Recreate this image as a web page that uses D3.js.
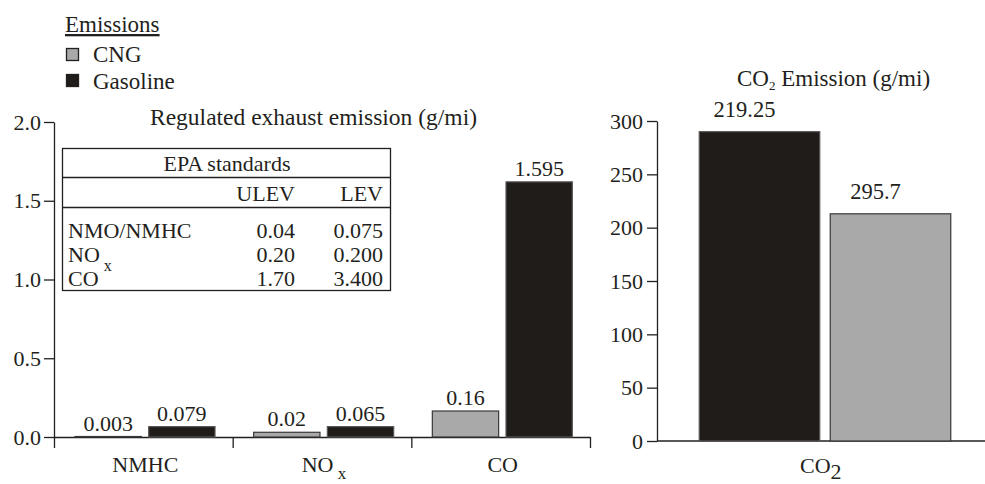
<!DOCTYPE html>
<html lang="en">
<head>
<meta charset="UTF-8">
<title>Emissions</title>
<script src="https://cdnjs.cloudflare.com/ajax/libs/d3/7.8.5/d3.min.js"></script>
<style>
  body { margin: 0; background: #fff; }
  svg, svg text { font-family: "Liberation Serif", "Times New Roman", Times, "DejaVu Serif", serif !important; }
  svg text { fill: #231f20; }
  .axis path, .axis line { stroke: #231f20; stroke-width: 1.3; }
  .axis text { font-size: 22px; }
</style>
</head>
<body>
<div id="chart"></div>
<script>
// left panel: regulated emissions
var categories = ["NMHC", "NOx", "CO"];
var seriesNames = ["CNG", "Gasoline"];
var cngValues = [0.003, 0.03, 0.165];
var gasValues = [0.066, 0.066, 1.62];
var cngLabels = ["0.003", "0.02", "0.16"];
var gasLabels = ["0.079", "0.065", "1.595"];
var leftTicks = [0, 0.5, 1.0, 1.5, 2.0];

// EPA standards table
var epaRows = ["NMO/NMHC", "NOx", "CO"];
var epaUlev = ["0.04", "0.20", "1.70"];
var epaLev = ["0.075", "0.200", "3.400"];

// right panel: CO2
var co2Series = ["Gasoline", "CNG"];
var co2Values = [290, 213];
var co2Labels = ["219.25", "295.7"];
var co2Ticks = [0, 50, 100, 150, 200, 250, 300];

var w = 985, h = 484;
var serif = '"Liberation Serif", "Times New Roman", "DejaVu Serif", serif';
var colors = { CNG: "#a9a9a9", Gasoline: "#201c1a" };
var strokes = { CNG: "#3a3636", Gasoline: "#5a5656" };

var svg = d3.select("#chart").append("svg")
    .attr("width", w)
    .attr("height", h)
    .attr("font-family", serif);

// subscript helper: "NOx" -> NO + lowered x, "CO2" -> CO + lowered 2
function sub(sel, name, dy, size) {
    var m = name.match(/^(NO|CO)(x|2)$/);
    if (!m) { sel.text(name); return; }
    sel.append("tspan").text(m[1]);
    sel.append("tspan").attr("dy", dy).attr("font-size", size).text((m[2] == "x" ? " " : "") + m[2]);
}

// ---------- legend ----------
svg.append("text").attr("x", 65).attr("y", 32).attr("font-size", 23)
    .attr("text-decoration", "underline").text("Emissions");
seriesNames.forEach(function (s, i) {
    svg.append("rect")
        .attr("x", 66.5).attr("y", 48.5 + i * 26)
        .attr("width", 12).attr("height", 12)
        .attr("fill", colors[s]).attr("stroke", "#231f20").attr("stroke-width", 1.3);
    svg.append("text").attr("x", 93).attr("y", 62 + i * 27).attr("font-size", 23).text(s);
});

// ---------- left chart ----------
var yL = d3.scaleLinear().domain([0, 2]).range([437, 122]);
var x0 = d3.scaleBand().domain(categories).range([54, 590]);
var x1 = d3.scaleBand().domain(seriesNames).range([21, 161]).paddingInner(0.1);
var xEdges = d3.scaleLinear().domain([0, categories.length]).range([54, 590]);

svg.append("g").attr("class", "axis")
    .attr("transform", "translate(54,0)")
    .call(d3.axisLeft(yL).tickValues(leftTicks).tickSize(10).tickSizeOuter(0).tickPadding(3)
        .tickFormat(d3.format(".1f")))
    .attr("font-family", serif);

svg.append("g").attr("class", "axis")
    .attr("transform", "translate(0,437)")
    .call(d3.axisBottom(xEdges).ticks(3).tickSize(11).tickSizeOuter(0).tickFormat(""));

svg.append("text").attr("x", 150).attr("y", 125).attr("font-size", 23.5)
    .text("Regulated exhaust emission (g/mi)");

var groups = svg.selectAll("g.cat")
    .data(categories.map(function (c, i) {
        return { cat: c, bars: [
            { s: "CNG", v: cngValues[i], label: cngLabels[i] },
            { s: "Gasoline", v: gasValues[i], label: gasLabels[i] }
        ] };
    }))
    .enter().append("g").attr("class", "cat")
    .attr("transform", function (d) { return "translate(" + x0(d.cat) + ",0)"; });

groups.selectAll("rect")
    .data(function (d) { return d.bars; })
    .enter().append("rect")
    .attr("x", function (d) { return x1(d.s); })
    .attr("y", function (d) { return yL(d.v); })
    .attr("width", x1.bandwidth())
    .attr("height", function (d) { return yL(0) - yL(d.v); })
    .attr("fill", function (d) { return colors[d.s]; })
    .attr("stroke", function (d) { return strokes[d.s]; })
    .attr("stroke-width", 1.2);

groups.selectAll("text.val")
    .data(function (d) { return d.bars; })
    .enter().append("text").attr("class", "val")
    .attr("x", function (d) { return x1(d.s) + x1.bandwidth() / 2; })
    .attr("y", function (d) { return yL(d.v) - 6; })
    .attr("text-anchor", "middle").attr("font-size", 22)
    .text(function (d) { return d.label; });

groups.append("text")
    .attr("x", x0.bandwidth() / 2 + 2)
    .attr("y", 472)
    .attr("text-anchor", "middle").attr("font-size", 22)
    .each(function (d) { sub(d3.select(this), d.cat, 7, 17); });

// EPA standards box
var box = svg.append("g");
box.append("rect").attr("x", 62.5).attr("y", 148.5).attr("width", 328).attr("height", 142)
    .attr("fill", "#fff").attr("stroke", "#231f20").attr("stroke-width", 1.3);
box.selectAll("line").data([177, 207]).enter().append("line")
    .attr("x1", 62.5).attr("x2", 390.5).attr("y1", function (d) { return d + 0.5; }).attr("y2", function (d) { return d + 0.5; })
    .attr("stroke", "#231f20").attr("stroke-width", 1.3);
box.append("text").attr("x", 227).attr("y", 171).attr("text-anchor", "middle").attr("font-size", 22).text("EPA standards");
box.append("text").attr("x", 295).attr("y", 201).attr("text-anchor", "end").attr("font-size", 22).text("ULEV");
box.append("text").attr("x", 383).attr("y", 201).attr("text-anchor", "end").attr("font-size", 22).text("LEV");
var rowY = d3.scalePoint().domain(epaRows).range([238, 286]);
epaRows.forEach(function (r, i) {
    var t = box.append("text").attr("x", 68).attr("y", rowY(r)).attr("font-size", 22);
    sub(t, r, 9, 16);
    box.append("text").attr("x", 295).attr("y", rowY(r)).attr("text-anchor", "end").attr("font-size", 22).text(epaUlev[i]);
    box.append("text").attr("x", 383).attr("y", rowY(r)).attr("text-anchor", "end").attr("font-size", 22).text(epaLev[i]);
});

// ---------- right chart ----------
var yR = d3.scaleLinear().domain([0, 300]).range([441, 121]);
var xR = d3.scaleBand().domain(co2Series).range([694, 956]).paddingInner(0.08).paddingOuter(0.04);

svg.append("g").attr("class", "axis")
    .attr("transform", "translate(657,0)")
    .call(d3.axisLeft(yR).tickValues(co2Ticks).tickSize(10).tickSizeOuter(0).tickPadding(4))
    .attr("font-family", serif);

svg.append("line").attr("x1", 657).attr("x2", w).attr("y1", 441).attr("y2", 441)
    .attr("stroke", "#231f20").attr("stroke-width", 1.3);

svg.selectAll("rect.co2")
    .data(co2Series.map(function (s, i) { return { s: s, v: co2Values[i], label: co2Labels[i] }; }))
    .enter().append("rect").attr("class", "co2")
    .attr("x", function (d) { return xR(d.s); })
    .attr("y", function (d) { return yR(d.v); })
    .attr("width", xR.bandwidth())
    .attr("height", function (d) { return yR(0) - yR(d.v); })
    .attr("fill", function (d) { return colors[d.s]; })
    .attr("stroke", function (d) { return strokes[d.s]; })
    .attr("stroke-width", 1.2);

// labels sit a little left of the bar centre in the original
svg.selectAll("text.co2")
    .data(co2Series.map(function (s, i) { return { s: s, v: co2Values[i], label: co2Labels[i] }; }))
    .enter().append("text").attr("class", "co2")
    .attr("x", function (d) { return xR(d.s) + xR.bandwidth() / 2 - 15; })
    .attr("y", function (d) { return yR(d.v) - 15; })
    .attr("text-anchor", "middle").attr("font-size", 22.5)
    .text(function (d) { return d.label; });

var t2 = svg.append("text").attr("x", 737).attr("y", 86).attr("font-size", 23);
t2.append("tspan").text("CO");
t2.append("tspan").attr("dy", 4).attr("font-size", 13).text("2");
t2.append("tspan").attr("dy", -4).text(" Emission (g/mi)");

var t3 = svg.append("text").attr("x", 800).attr("y", 473).attr("font-size", 22);
sub(t3, "CO2", 6, 22);
</script>
</body>
</html>
